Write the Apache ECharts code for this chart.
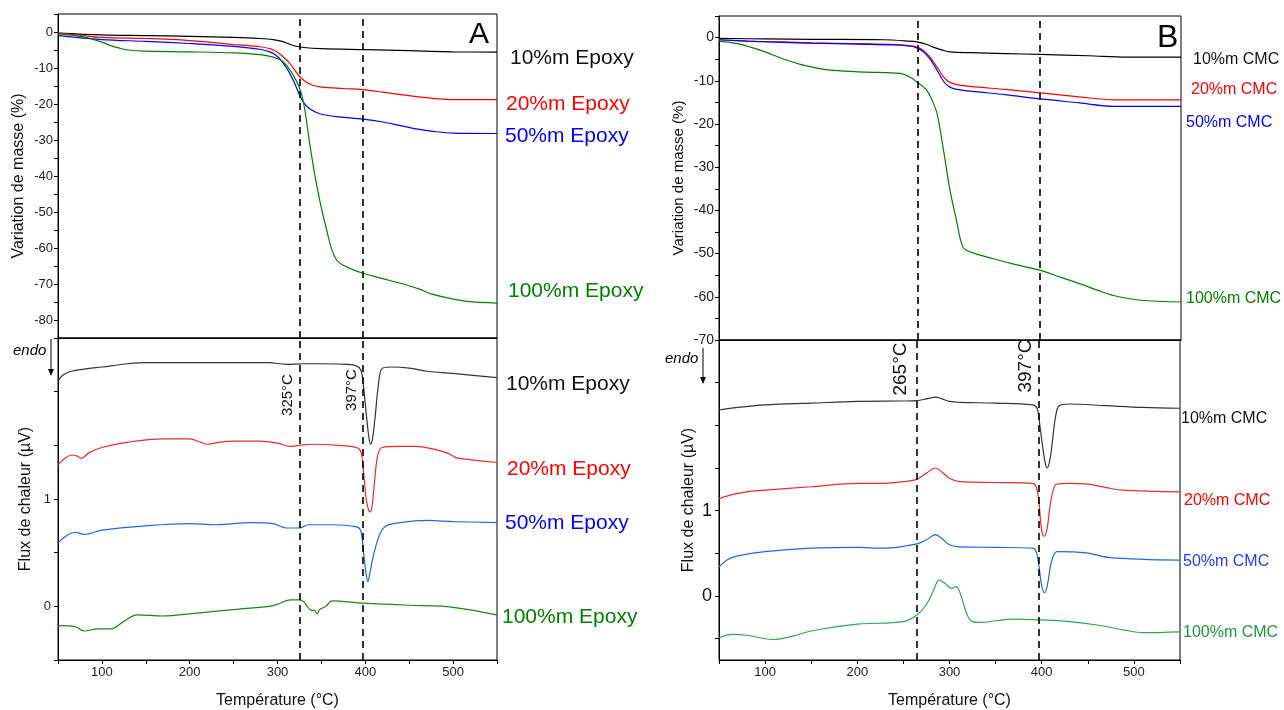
<!DOCTYPE html>
<html><head><meta charset="utf-8">
<script src="https://cdn.jsdelivr.net/npm/echarts@6/dist/echarts.min.js"></script>
<style>html,body{margin:0;padding:0;background:#fff}#c{width:1284px;height:710px}</style>
</head><body><div id="c"></div>
<script>
// ---------- DATA (temperature °C, value) ----------
const tgaA10 = [[50,-0.3],[100,-0.8],[150,-1.0],[200,-1.2],[250,-1.5],[280,-1.8],[295,-2.1],[305,-2.6],[312,-3.2],[320,-3.9],[330,-4.3],[350,-4.6],[400,-4.9],[450,-5.2],[500,-5.5],[550,-5.6]];
const tgaA20 = [[50,-0.3],[75,-0.9],[100,-1.5],[150,-1.8],[185,-2.1],[212,-2.6],[250,-3.5],[280,-4.1],[292,-4.7],[300,-5.6],[307,-7.0],[314,-8.7],[320,-10.7],[325,-12.3],[332,-13.8],[340,-14.8],[350,-15.3],[375,-15.7],[397,-16.0],[420,-16.7],[440,-17.4],[460,-18.0],[480,-18.5],[500,-18.8],[550,-18.8]];
const tgaA50 = [[50,-1.0],[100,-2.1],[150,-2.6],[200,-3.2],[250,-4.0],[280,-4.8],[292,-5.6],[300,-6.8],[307,-8.8],[314,-11.5],[320,-14.5],[325,-17.5],[330,-19.7],[337,-21.4],[348,-22.7],[370,-23.6],[397,-24.2],[420,-25.0],[440,-26.0],[460,-27.0],[477,-27.6],[500,-28.1],[550,-28.2]];
const tgaA100 = [[50,-0.5],[70,-1.0],[85,-1.7],[100,-2.8],[110,-3.8],[120,-4.5],[130,-5.0],[150,-5.3],[200,-5.5],[250,-5.8],[280,-6.3],[295,-7.0],[305,-8.0],[312,-9.8],[318,-12.0],[325,-15.5],[330,-20],[337,-31.5],[342,-39],[348,-46.6],[352,-51],[356,-55],[360,-59],[364,-61.8],[368,-63.5],[375,-64.8],[385,-65.9],[397,-67],[420,-68.5],[440,-69.8],[460,-71.3],[477,-72.9],[500,-74.2],[516,-74.8],[550,-75.3]];

const dscA10 = [[50,2.10],[55,2.15],[65,2.19],[80,2.21],[100,2.23],[130,2.26],[150,2.27],[200,2.27],[250,2.27],[290,2.27],[310,2.255],[330,2.26],[350,2.26],[380,2.255],[390,2.24],[395,2.20],[398,2.05],[401,1.80],[404,1.58],[406,1.51],[408,1.55],[411,1.75],[414,2.0],[417,2.18],[420,2.22],[430,2.23],[450,2.22],[470,2.19],[500,2.17],[550,2.13]];
const dscA20 = [[50,1.32],[58,1.38],[66,1.41],[72,1.40],[77,1.38],[85,1.43],[100,1.48],[130,1.53],[170,1.56],[200,1.56],[212,1.53],[220,1.51],[235,1.53],[250,1.54],[280,1.54],[300,1.52],[314,1.49],[325,1.50],[340,1.51],[370,1.50],[390,1.48],[395,1.44],[398,1.25],[401,1.0],[404,0.89],[406,0.88],[408,0.95],[411,1.2],[414,1.40],[419,1.48],[440,1.49],[458,1.49],[480,1.46],[493,1.43],[500,1.40],[505,1.38],[550,1.34]];
const dscA50 = [[50,0.59],[60,0.66],[70,0.69],[80,0.67],[100,0.71],[150,0.75],[200,0.77],[230,0.76],[270,0.78],[295,0.77],[310,0.73],[325,0.73],[335,0.76],[360,0.76],[390,0.74],[395,0.70],[398,0.50],[401,0.30],[403,0.23],[405,0.30],[410,0.50],[417,0.68],[424,0.75],[440,0.78],[470,0.80],[500,0.79],[550,0.78]];
const dscA100 = [[50,-0.18],[70,-0.19],[80,-0.23],[95,-0.21],[110,-0.21],[125,-0.14],[140,-0.08],[170,-0.09],[200,-0.07],[250,-0.03],[290,0.0],[300,0.02],[315,0.06],[325,0.06],[330,0.04],[334,0.0],[337,-0.03],[340,-0.04],[342,-0.035],[345,-0.07],[348,-0.03],[355,0.0],[362,0.05],[397,0.03],[450,0.01],[490,0.0],[550,-0.08]];

const tgaB10 = [[50,-0.2],[100,-0.3],[150,-0.4],[228,-0.5],[255,-0.8],[264,-1.0],[275,-1.6],[282,-2.2],[292,-2.9],[300,-3.3],[322,-3.5],[360,-3.7],[398,-3.9],[450,-4.2],[492,-4.5],[550,-4.5]];
const tgaB20 = [[50,-0.5],[80,-0.8],[119,-1.0],[150,-1.2],[200,-1.4],[240,-1.6],[258,-1.9],[264,-2.2],[271,-2.9],[277,-4.2],[282,-5.6],[288,-7.5],[293,-9.1],[298,-10.1],[304,-10.7],[322,-11.3],[360,-12.0],[398,-12.8],[440,-13.7],[477,-14.4],[550,-14.4]];
const tgaB50 = [[50,-0.5],[80,-0.8],[119,-1.1],[150,-1.3],[200,-1.5],[240,-1.7],[258,-2.0],[264,-2.4],[271,-3.2],[277,-4.6],[282,-6.1],[288,-8.3],[293,-10.1],[298,-11.2],[304,-11.8],[322,-12.4],[360,-13.2],[398,-14.2],[440,-15.1],[477,-15.9],[550,-15.9]];
const tgaB100 = [[50,-0.8],[70,-1.4],[84,-2.2],[100,-3.3],[119,-4.9],[138,-6.2],[155,-7.0],[174,-7.6],[210,-8.0],[246,-8.3],[258,-9.3],[264,-10.3],[270,-11.2],[275,-12.2],[280,-14.2],[286,-17.6],[293,-26.1],[300,-35.3],[307,-42.3],[314,-48.5],[322,-49.6],[347,-51.2],[370,-52.5],[398,-53.9],[420,-55.5],[441,-57.0],[460,-58.5],[477,-59.7],[506,-60.8],[550,-61.2]];

const dscB10 = [[50,2.18],[70,2.21],[100,2.24],[150,2.26],[200,2.28],[250,2.285],[265,2.29],[275,2.31],[285,2.33],[292,2.31],[300,2.28],[311,2.27],[350,2.26],[390,2.24],[395,2.20],[398,2.0],[401,1.75],[404,1.55],[406,1.50],[409,1.60],[412,1.85],[415,2.10],[419,2.23],[430,2.25],[470,2.23],[510,2.21],[550,2.20]];
const dscB20 = [[50,1.14],[65,1.19],[80,1.22],[100,1.24],[150,1.28],[200,1.32],[230,1.32],[250,1.34],[265,1.37],[275,1.44],[285,1.50],[292,1.45],[300,1.38],[311,1.34],[350,1.33],[390,1.32],[394,1.28],[397,1.10],[399,0.85],[401,0.72],[403,0.70],[406,0.80],[409,1.05],[412,1.22],[416,1.31],[430,1.32],[450,1.31],[470,1.27],[488,1.24],[550,1.22]];
const dscB50 = [[50,0.34],[60,0.43],[70,0.47],[100,0.52],[150,0.56],[200,0.57],[230,0.56],[265,0.61],[275,0.66],[285,0.72],[292,0.67],[300,0.60],[311,0.575],[350,0.57],[390,0.56],[394,0.52],[397,0.35],[400,0.12],[403,0.04],[406,0.12],[410,0.38],[414,0.50],[417,0.52],[448,0.505],[474,0.45],[550,0.42]];
const dscB100 = [[50,-0.49],[65,-0.45],[80,-0.46],[110,-0.51],[130,-0.47],[150,-0.41],[200,-0.33],[250,-0.30],[265,-0.22],[275,-0.10],[282,0.05],[289,0.19],[295,0.15],[302,0.09],[307,0.11],[311,0.05],[316,-0.12],[320,-0.24],[325,-0.30],[335,-0.31],[350,-0.29],[370,-0.27],[400,-0.28],[430,-0.30],[460,-0.34],[490,-0.40],[510,-0.43],[550,-0.42]];

const markTempsA = [325, 397];
const markTempsB = [265, 397];
const labelsA = ['10%m Epoxy','20%m Epoxy','50%m Epoxy','100%m Epoxy'];
const labelsB = ['10%m CMC','20%m CMC','50%m CMC','100%m CMC'];
const xTicks = [100,200,300,400,500];

// ---------- CHART ----------
const FONT = 'Liberation Sans, Arial, sans-serif';
const chart = echarts.init(document.getElementById('c'), null, {renderer:'canvas'});

const grids = [
  {left:58, top:14, width:439, height:324},
  {left:58, top:338, width:439, height:324},
  {left:719, top:16, width:462, height:324},
  {left:719, top:340, width:461, height:323}
].map(g => Object.assign(g, {show:true, borderColor:'#000', borderWidth:1, containLabel:false}));

function xAx(i, withLabels, fs){
  return {
    type:'value', gridIndex:i, min:50, max:550, interval:50,
    axisLine:{show:true, onZero:false, lineStyle:{color:'#000', width:1}},
    axisTick:{show:withLabels, inside:false, length:4, lineStyle:{color:'#000'}},
    axisLabel:{show:withLabels, color:'#222', fontSize:fs, fontFamily:FONT, margin:6,
      formatter: v => xTicks.includes(v) ? String(v) : ''},
    splitLine:{show:false},
    name: withLabels ? 'Température (°C)' : '',
    nameLocation:'middle', nameGap:33,
    nameTextStyle:{fontSize:16, fontFamily:FONT, color:'#111'}
  };
}
function yAx(i, opts){
  return Object.assign({
    type:'value', gridIndex:i,
    axisLine:{show:true, onZero:false, lineStyle:{color:'#000', width:1}},
    axisTick:{show:true, inside:false, length:4, lineStyle:{color:'#000'}},
    splitLine:{show:false},
    nameLocation:'middle',
    nameTextStyle:{fontSize:16, fontFamily:FONT, color:'#111'}
  }, opts);
}

const yAxes = [
  yAx(0, {min:-85, max:5, interval:5, name:'Variation de masse (%)', nameGap:31,
    axisLabel:{color:'#222', fontSize:13, fontFamily:FONT, margin:5, formatter:v => (v % 10 === 0) ? String(v) : ''}}),
  yAx(1, {min:-0.5, max:2.5, interval:0.5, name:'Flux de chaleur (µV)', nameGap:24,
    axisLabel:{color:'#222', fontSize:13, fontFamily:FONT, margin:7, formatter:v => (v === 0 || v === 1) ? String(v) : ''}}),
  yAx(2, {min:-70, max:5, interval:5, name:'Variation de masse (%)', nameGap:33,
    nameTextStyle:{fontSize:15, fontFamily:FONT, color:'#111'},
    axisLabel:{color:'#222', fontSize:14, fontFamily:FONT, margin:5, formatter:v => (v % 10 === 0) ? String(v) : ''}}),
  yAx(3, {min:-0.75, max:3, name:'Flux de chaleur (µV)', nameGap:22,
    axisTick:{show:true, length:4, customValues:[-0.5,0,0.5,1,1.5,2,2.5], lineStyle:{color:'#000'}},
    axisLabel:{color:'#111', fontSize:18, fontFamily:FONT, margin:7, customValues:[0,1]}})
];

const xAxes = [xAx(0,false,13), xAx(1,true,13), xAx(2,false,13), xAx(3,true,13)];

function ser(data, gi, color, mark){
  const s = {type:'line', xAxisIndex:gi, yAxisIndex:gi, data:data, showSymbol:false,
    smooth:0.35, lineStyle:{color:color, width:1.2}, itemStyle:{color:color},
    silent:true, z:3};
  if (mark) {
    s.markLine = {symbol:'none', silent:true, label:{show:false}, animation:false,
      lineStyle:{color:'#000', type:[7,5], width:1.6},
      data: mark.map(t => ({xAxis:t}))};
  }
  return s;
}

const series = [
  ser(tgaA10,0,'#000000',markTempsA), ser(tgaA20,0,'#ff0000'), ser(tgaA50,0,'#0000ff'), ser(tgaA100,0,'#008000'),
  ser(dscA10,1,'#333333',markTempsA), ser(dscA20,1,'#ee2a2a'), ser(dscA50,1,'#1f66e6'), ser(dscA100,1,'#1a861a'),
  ser(tgaB10,2,'#000000',markTempsB), ser(tgaB20,2,'#ff0000'), ser(tgaB50,2,'#0000ff'), ser(tgaB100,2,'#008000'),
  ser(dscB10,3,'#333333',markTempsB), ser(dscB20,3,'#ee2a2a'), ser(dscB50,3,'#1f66e6'), ser(dscB100,3,'#2aa84a')
];

chart.setOption({
  animation:false,
  backgroundColor:'#fff',
  textStyle:{fontFamily:FONT},
  grid:grids, xAxis:xAxes, yAxis:yAxes, series:series
});

// ---------- annotations ----------
function txt(text, x, y, size, color, extra){
  return Object.assign({type:'text', x:x, y:y, silent:true, z:10,
    style:{text:text, fontSize:size, fontFamily:FONT, fill:color, textVerticalAlign:'middle', textAlign:'left'}}, extra || {});
}
function vtxt(text, gi, temp, dx, y, size){
  const px = chart.convertToPixel({xAxisIndex:gi}, temp);
  return {type:'text', x:px - dx, y:y, rotation:Math.PI/2, silent:true, z:10,
    style:{text:text, fontSize:size, fontFamily:FONT, fill:'#111', align:'center', verticalAlign:'middle'}};
}
function arrow(x, y1, y2){
  return [
    {type:'line', silent:true, z:10, shape:{x1:x, y1:y1, x2:x, y2:y2-5}, style:{stroke:'#000', lineWidth:1}},
    {type:'polygon', silent:true, z:10, shape:{points:[[x-3,y2-7],[x+3,y2-7],[x,y2]]}, style:{fill:'#000'}}
  ];
}
const colsA = ['#111','#ff0000','#0000ff','#008000'];
const colsB = ['#111','#ff0000','#0000ff','#008000'];
const colsB2 = ['#111','#ff0000','#1f3cff','#1a9a3a'];

const g = [];
[[510,58],[506,104],[505,136],[508,291]].forEach((p,i)=>g.push(txt(labelsA[i],p[0],p[1],21,colsA[i])));
[[506,384],[507,469],[505,523],[502,617]].forEach((p,i)=>g.push(txt(labelsA[i],p[0],p[1],21,colsA[i])));
[[1193,60],[1191,90],[1186,123],[1186,299]].forEach((p,i)=>g.push(txt(labelsB[i],p[0],p[1],16,colsB[i])));
[[1181,419],[1184,501],[1183,562],[1183,633]].forEach((p,i)=>g.push(txt(labelsB[i],p[0],p[1],16,colsB2[i])));
g.push(txt('A',469,35,30,'#000'));
g.push(txt('B',1157,38,32,'#000'));
g.push(txt('endo',13,351,15,'#000',{style:{text:'endo',fontSize:15,fontFamily:FONT,fontStyle:'italic',fill:'#000',textVerticalAlign:'middle'}}));
g.push(...arrow(51,339,376));
g.push(txt('endo',665,359,15,'#000',{style:{text:'endo',fontSize:15,fontFamily:FONT,fontStyle:'italic',fill:'#000',textVerticalAlign:'middle'}}));
g.push(...arrow(703,348,384));
g.push(vtxt(markTempsA[0]+'°C',1,markTempsA[0],12,395,15));
g.push(vtxt(markTempsA[1]+'°C',1,markTempsA[1],11,390,15));
g.push(vtxt(markTempsB[0]+'°C',3,markTempsB[0],16,369,19));
g.push(vtxt(markTempsB[1]+'°C',3,markTempsB[1],13,366,19));

chart.setOption({graphic:{elements:g}});
</script></body></html>
